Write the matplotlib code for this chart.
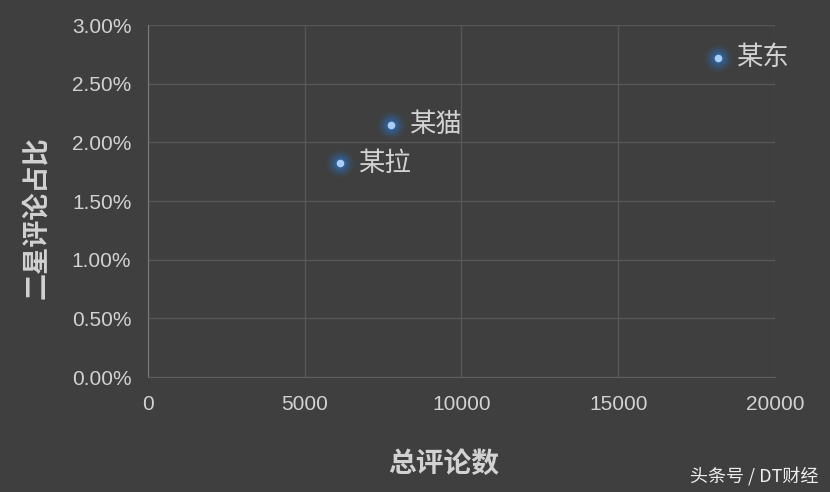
import matplotlib.pyplot as plt
from matplotlib.ticker import FuncFormatter, MultipleLocator

# data
names = ['某东', '某猫', '某拉']
total_reviews = [18180, 7750, 6120]
two_star_share = [2.72, 2.15, 1.82]   # percent

bg = '#3f3f3f'
grid_c = '#575757'
text_c = '#d2d2d2'

plt.rcParams['font.family'] = ['Liberation Sans', 'Noto Sans CJK SC', 'DejaVu Sans']

fig = plt.figure(figsize=(8.3, 4.92), dpi=100, facecolor=bg)
ax = fig.add_axes([0.1783, 0.2337, 0.7554, 0.7154], facecolor=bg)

# glow under each point
for s, a in [(400, 0.09), (280, 0.13), (190, 0.19), (115, 0.27), (60, 0.38)]:
    ax.scatter(total_reviews, two_star_share, s=s, color='#2f6fb8', alpha=a,
               linewidths=0, zorder=3)
ax.scatter(total_reviews, two_star_share, s=30, color='#a9cdf5', linewidths=0, zorder=4)

for n, x, y in zip(names, total_reviews, two_star_share):
    ax.annotate(n, (x, y), xytext=(13, 0), textcoords='offset points',
                va='center', ha='left', fontsize=19, color=text_c,
                family=['Noto Sans CJK SC', 'DejaVu Sans'], zorder=5)

ax.set_xlim(0, 20000)
ax.set_ylim(0, 3.0)
ax.xaxis.set_major_locator(MultipleLocator(5000))
ax.yaxis.set_major_locator(MultipleLocator(0.5))
ax.yaxis.set_major_formatter(FuncFormatter(lambda v, p: f'{v:.2f}%'))

ax.grid(True, color=grid_c, linewidth=1)
ax.set_axisbelow(True)
for side in ['top', 'right']:
    ax.spines[side].set_visible(False)
ax.spines['left'].set_color('#7a7a7a')
ax.spines['bottom'].set_color('#5e5e5e')
ax.tick_params(length=0, colors=text_c, labelsize=15)
ax.tick_params(axis='y', pad=12)
ax.tick_params(axis='x', pad=13)

fig.text(0.534, 0.058, '总评论数', ha='center', va='center', fontsize=20,
         fontweight='bold', color=text_c, family=['Noto Sans CJK SC', 'DejaVu Sans'])
fig.text(0.045, 0.558, '二星评论占比', ha='center', va='center', fontsize=19.5,
         fontweight='bold', color=text_c, rotation=90,
         family=['Noto Sans CJK SC', 'DejaVu Sans'])
fig.text(0.986, 0.033, '头条号 / DT财经', ha='right', va='center', fontsize=13,
         color='#eeeeee', family=['Noto Sans CJK SC', 'DejaVu Sans'])

plt.savefig('out.png', facecolor=bg)
